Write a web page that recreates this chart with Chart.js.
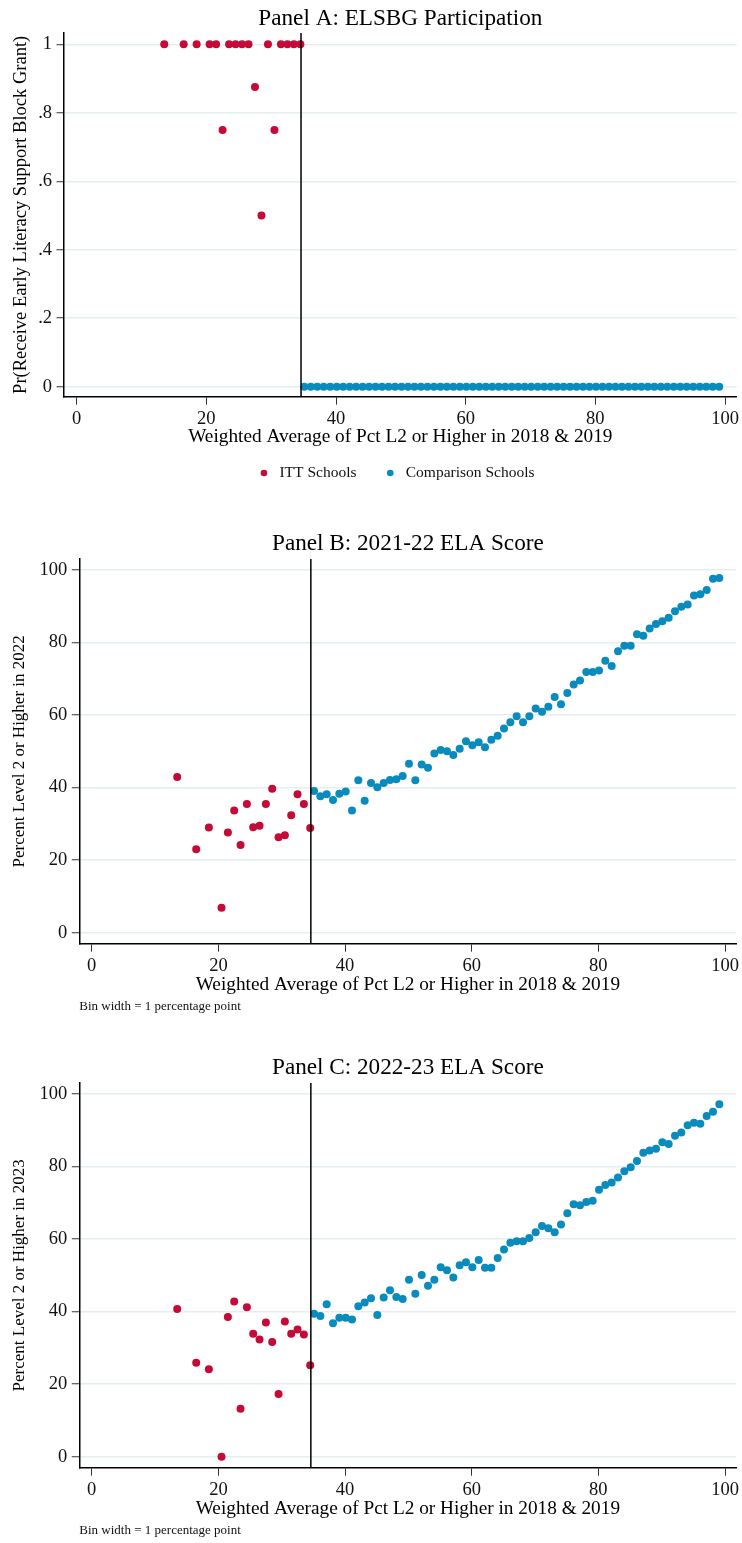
<!DOCTYPE html>
<html>
<head>
<meta charset="utf-8">
<title>ELSBG regression discontinuity</title>
<script src="https://cdn.jsdelivr.net/npm/chart.js@4.4.1/dist/chart.umd.min.js"></script>
<style>
    html, body { margin: 0; padding: 0; background: #fff; }
    body { width: 742px; height: 1543px; position: relative; overflow: hidden; }
    .panel { position: absolute; left: 0; }
    canvas { display: block; }
</style>
</head>
<body>
<div class="panel" style="top:0px"><canvas id="chartA" width="742" height="500"></canvas></div>
<div class="panel" style="top:520px"><canvas id="chartB" width="742" height="525"></canvas></div>
<div class="panel" style="top:1044px"><canvas id="chartC" width="742" height="499"></canvas></div>

<script>
// DATA PARTS

var cutoff = 34.6;

// bin centres (Weighted Average of Pct L2 or Higher in 2018 & 2019)
var ittBins = [13.5, 16.5, 18.5, 20.5, 21.5, 22.5, 23.5, 24.5, 25.5, 26.5, 27.5, 28.5, 29.5, 30.5, 31.5, 32.5, 33.5, 34.5];
var compBins = [
    35.1, 36.1, 37.1, 38.1, 39.1, 40.1, 41.1, 42.1, 43.1, 44.1,
    45.1, 46.1, 47.1, 48.1, 49.1, 50.1, 51.1, 52.1, 53.1, 54.1,
    55.1, 56.1, 57.1, 58.1, 59.1, 60.1, 61.1, 62.1, 63.1, 64.1,
    65.1, 66.1, 67.1, 68.1, 69.1, 70.1, 71.1, 72.1, 73.1, 74.1,
    75.1, 76.1, 77.1, 78.1, 79.1, 80.1, 81.1, 82.1, 83.1, 84.1,
    85.1, 86.1, 87.1, 88.1, 89.1, 90.1, 91.1, 92.1, 93.1, 94.1,
    95.1, 96.1, 97.1, 98.1, 99.1
];

// Panel A : Pr(receive grant)
var ittGrant = [1, 1, 1, 1, 1, 0.75, 1, 1, 1, 1, 0.875, 0.5, 1, 0.75, 1, 1, 1, 1];
var compGrant = [
    0, 0, 0, 0, 0, 0, 0, 0, 0, 0,
    0, 0, 0, 0, 0, 0, 0, 0, 0, 0,
    0, 0, 0, 0, 0, 0, 0, 0, 0, 0,
    0, 0, 0, 0, 0, 0, 0, 0, 0, 0,
    0, 0, 0, 0, 0, 0, 0, 0, 0, 0,
    0, 0, 0, 0, 0, 0, 0, 0, 0, 0,
    0, 0, 0, 0, 0
];

// Panel B : 2021-22 score
var ittScore22 = [42.9, 23.0, 29.0, 6.9, 27.6, 33.7, 24.2, 35.5, 29.1, 29.5, 35.5, 39.7, 26.3, 26.9, 32.4, 38.2, 35.5, 28.9];
var compScore22 = [
    39.1, 37.6, 38.2, 36.6, 38.3, 38.9, 33.7, 42.0, 36.4, 41.3,
    40.1, 41.3, 42.1, 42.3, 43.2, 46.6, 42.0, 46.4, 45.5, 49.4,
    50.4, 50.0, 49.0, 50.7, 52.8, 51.7, 52.5, 51.1, 53.2, 54.3,
    56.3, 58.0, 59.7, 58.0, 59.7, 61.8, 60.9, 62.3, 65.0, 63.0,
    66.1, 68.4, 69.5, 71.9, 71.9, 72.3, 75.0, 73.5, 77.6, 79.1,
    79.1, 82.3, 81.9, 83.9, 85.1, 85.9, 86.8, 88.6, 89.9, 90.5,
    93.0, 93.3, 94.5, 97.6, 97.8
];

// Panel C : 2022-23 score
var ittScore23 = [40.7, 25.9, 24.1, 0, 38.5, 42.8, 13.2, 41.2, 33.9, 32.3, 37.0, 31.6, 17.3, 37.3, 33.9, 35.1, 33.7, 25.2];
var compScore23 = [
    39.4, 38.8, 42.0, 36.8, 38.3, 38.3, 37.8, 41.5, 42.5, 43.7,
    39.1, 43.9, 45.9, 44.0, 43.5, 48.8, 44.9, 50.1, 47.1, 48.8,
    52.2, 51.4, 49.4, 52.8, 53.6, 52.2, 54.2, 52.1, 52.1, 54.8,
    57.1, 59.0, 59.4, 59.4, 60.3, 61.9, 63.6, 63.0, 61.9, 64.0,
    67.1, 69.6, 69.3, 70.2, 70.6, 73.6, 74.9, 75.6, 77.0, 78.7,
    79.8, 81.5, 83.8, 84.4, 84.9, 86.7, 86.2, 88.5, 89.4, 91.4,
    92.1, 91.8, 93.9, 95.1, 97.2
];

// TICK PARTS

var xTicks = [0, 20, 40, 60, 80, 100];
var xTickLabels = ['0', '20', '40', '60', '80', '100'];
var yTicksA = [0, 0.2, 0.4, 0.6, 0.8, 1];
var yTickLabelsA = ['0', '.2', '.4', '.6', '.8', '1'];
var yTicksScore = [0, 20, 40, 60, 80, 100];
var yTickLabelsScore = ['0', '20', '40', '60', '80', '100'];

// STYLE PARTS

var serif = "'Liberation Serif', 'Times New Roman', serif";
var red = '#c60a38';
var blue = '#0a8bbd';
var gridColor = '#e4edf0';

// FUNCTION PARTS

function toPoints(bins, vals){
    var pts = [];
    bins.forEach((b, i) => {
        pts.push({x: b, y: vals[i]});
    });
    return pts;
}

function dotSet(label, pts, color){
    return {
        label: label,
        data: pts,
        backgroundColor: color,
        borderColor: color,
        borderWidth: 0,
        pointRadius: 4,
        pointHoverRadius: 4,
        pointBorderWidth: 0
    };
}

// vertical line at the cutoff
var cutoffLine = {
    id: 'cutoffLine',
    afterDatasetsDraw(chart){
        var ctx = chart.ctx;
        var area = chart.chartArea;
        var x = chart.scales.x.getPixelForValue(cutoff);
        ctx.save();
        ctx.strokeStyle = '#000';
        ctx.lineWidth = 1.5;
        ctx.beginPath();
        ctx.moveTo(x, area.top);
        ctx.lineTo(x, area.bottom);
        ctx.stroke();
        ctx.restore();
    }
};

// nudge the legend a little to the left, like the original
var legendNudge = {
    id: 'legendNudge',
    afterLayout(chart){
        if(chart.legend && chart.options.plugins.legend.display){
            chart.legend.left -= 5;
            chart.legend.right -= 5;
        }
    }
};

function buildChart(id, o){

    var ctx = document.getElementById(id).getContext('2d');

    var chart = new Chart(ctx, {
        type: 'scatter',
        data: {
            datasets: [
                dotSet('ITT Schools', toPoints(ittBins, o.itt), red),
                dotSet('Comparison Schools', toPoints(compBins, o.comp), blue)
            ]
        },
        options: {
            responsive: false,
            animation: false,
            events: [],
            layout: { autoPadding: false, padding: o.padding },
            plugins: {
                tooltip: { enabled: false },
                title: {
                    display: true,
                    text: o.title,
                    fullSize: false,
                    color: '#000',
                    font: { family: serif, size: 23.2, weight: 'normal', lineHeight: 1.2 },
                    padding: o.titlePad
                },
                subtitle: {
                    display: !!o.note,
                    text: o.note || '',
                    position: 'bottom',
                    align: 'start',
                    fullSize: false,
                    color: '#111',
                    font: { family: serif, size: 13, weight: 'normal', lineHeight: 1.2 },
                    padding: { top: 0.5, bottom: 0 }
                },
                legend: {
                    display: !!o.legend,
                    position: 'bottom',
                    fullSize: false,
                    align: 'center',
                    labels: {
                        usePointStyle: true,
                        pointStyle: 'circle',
                        boxWidth: 15.5,
                        boxHeight: 4.7,
                        padding: 26,
                        color: '#111',
                        font: { family: serif, size: 15.5 }
                    }
                }
            },
            scales: {
                x: {
                    type: 'linear',
                    min: -1.96,
                    max: 101.8,
                    afterBuildTicks: function(s){ s.ticks = xTicks.map(v => ({value: v})); },
                    afterFit: function(s){ s.height = o.xHeight; },
                    grid: { drawOnChartArea: false, drawTicks: true, tickLength: 8, tickColor: '#333', tickWidth: 1 },
                    border: { display: true, color: '#000', width: 1.5 },
                    ticks: {
                        padding: 3,
                        color: '#111',
                        maxRotation: 0,
                        autoSkip: false,
                        font: { family: serif, size: 18.5 },
                        callback: function(v, i){ return xTickLabels[i]; }
                    },
                    title: {
                        display: true,
                        text: 'Weighted Average of Pct L2 or Higher in 2018 & 2019',
                        color: '#000',
                        font: { family: serif, size: 19.3, lineHeight: 1.2 },
                        padding: { top: 0, bottom: o.xTitlePad }
                    }
                },
                y: {
                    type: 'linear',
                    min: o.yMin,
                    max: o.yMax,
                    afterBuildTicks: function(s){ s.ticks = o.yTicks.map(v => ({value: v})); },
                    afterFit: function(s){ s.width = o.yWidth; },
                    grid: { color: gridColor, lineWidth: 1.5, drawTicks: true, tickLength: 7.5, tickColor: '#333', tickWidth: 1 },
                    border: { display: true, color: '#000', width: 1.5 },
                    ticks: {
                        padding: 4.5,
                        color: '#111',
                        autoSkip: false,
                        font: { family: serif, size: 18.5 },
                        callback: function(v, i){ return o.yLabels[i]; }
                    },
                    title: {
                        display: true,
                        text: o.yTitle,
                        color: '#000',
                        font: { family: serif, size: o.yTitleSize, lineHeight: 1.2 },
                        padding: { top: o.yTitlePad, bottom: 0 }
                    }
                }
            }
        },
        plugins: [cutoffLine, legendNudge]
    });

    return chart;
}

// WINDOW ONLOAD PART

window.onload = () => {

    buildChart('chartA', {
        title: 'Panel A: ELSBG Participation',
        itt: ittGrant,
        comp: compGrant,
        yTicks: yTicksA,
        yLabels: yTickLabelsA,
        yMin: -0.0292,
        yMax: 1.033,
        yTitle: 'Pr(Receive Early Literacy Support Block Grant)',
        yTitleSize: 18.5,
        yWidth: 64,
        yTitlePad: 9.7,
        xHeight: 42.55,
        xTitlePad: -9.13,
        titlePad: { top: 5.08, bottom: 0.08 },
        padding: { left: 0, right: 5.3, top: 0, bottom: 9.25 },
        legend: true
    });

    buildChart('chartB', {
        title: 'Panel B: 2021-22 ELA Score',
        itt: ittScore22,
        comp: compScore22,
        yTicks: yTicksScore,
        yLabels: yTickLabelsScore,
        yMin: -3.03,
        yMax: 103.03,
        yTitle: 'Percent Level 2 or Higher in 2022',
        yTitleSize: 17,
        yWidth: 79.3,
        yTitlePad: 9.8,
        xHeight: 55,
        xTitlePad: 2.62,
        titlePad: { top: 10.08, bottom: 1.08 },
        padding: { left: 0, right: 5.3, top: 0, bottom: 30.2 },
        note: 'Bin width = 1 percentage point'
    });

    buildChart('chartC', {
        title: 'Panel C: 2022-23 ELA Score',
        itt: ittScore23,
        comp: compScore23,
        yTicks: yTicksScore,
        yLabels: yTickLabelsScore,
        yMin: -3.03,
        yMax: 103.03,
        yTitle: 'Percent Level 2 or Higher in 2023',
        yTitleSize: 17,
        yWidth: 79.3,
        yTitlePad: 9.8,
        xHeight: 55,
        xTitlePad: 2.62,
        titlePad: { top: 10.08, bottom: 1.08 },
        padding: { left: 0, right: 5.3, top: 0, bottom: 4.2 },
        note: 'Bin width = 1 percentage point'
    });

}
</script>
</body>
</html>
